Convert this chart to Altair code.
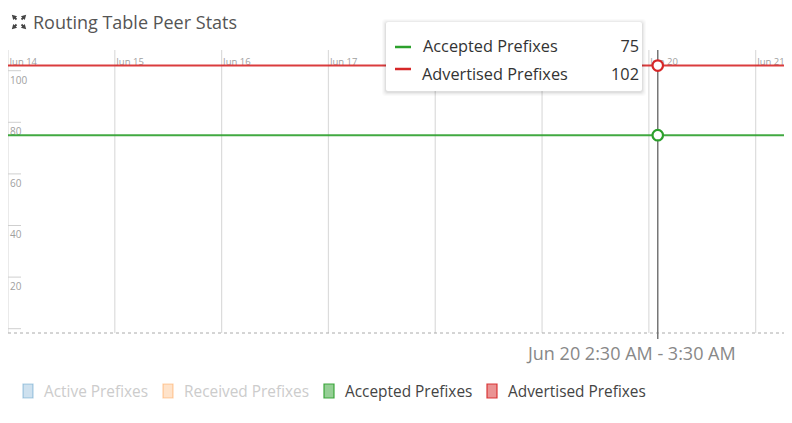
import altair as alt
import pandas as pd

# ---------------- data ----------------
day_dates = [
    "2024-06-14T00:00:00", "2024-06-15T00:00:00", "2024-06-16T00:00:00",
    "2024-06-17T00:00:00", "2024-06-18T00:00:00", "2024-06-19T00:00:00",
    "2024-06-20T00:00:00", "2024-06-21T00:00:00",
]
# day labels hidden under the tooltip box in the reference
covered_dates = ["2024-06-18T00:00:00", "2024-06-19T00:00:00"]
line_dates = day_dates + ["2024-06-22T00:00:00"]
accepted_values = [75, 75, 75, 75, 75, 75, 75, 75, 75]
advertised_values = [102, 102, 102, 102, 102, 102, 102, 102, 102]

series_names = ["Active Prefixes", "Received Prefixes", "Accepted Prefixes", "Advertised Prefixes"]
series_colors = ["#1f77b4", "#ff7f0e", "#2ca02c", "#d62728"]
series_enabled = [False, False, True, True]

y_tick_values = [0, 20, 40, 60, 80, 100]

hover_time = "2024-06-20T02:00:00"
hover_series = ["Accepted Prefixes", "Advertised Prefixes"]
hover_values = [75, 102]
hover_label = "Jun 20 2:30 AM - 3:30 AM"
title_text = "Routing Table Peer Stats"

FONT = "Open Sans"
W, H = 776, 407

# ---------------- tables ----------------
lines_df = pd.DataFrame({
    "date": line_dates * 2,
    "value": accepted_values + advertised_values,
    "series": ["Accepted Prefixes"] * len(line_dates) + ["Advertised Prefixes"] * len(line_dates),
})
days_df = pd.DataFrame({"date": day_dates})
day_labels_df = pd.DataFrame({"date": [d for d in day_dates if d not in covered_dates]})
yticks_df = pd.DataFrame({"value": y_tick_values})
ylabels_df = pd.DataFrame({"value": [v for v in y_tick_values if v > 0]})
hover_df = pd.DataFrame({"date": [hover_time] * len(hover_series),
                         "value": hover_values, "series": hover_series})
one = pd.DataFrame({"k": [0]})

x_scale = alt.Scale(domain=[alt.DateTime(year=2024, month=6, date=14, hours=0),
                            alt.DateTime(year=2024, month=6, date=21, hours=6, minutes=22)])
y_scale = alt.Scale(domain=[-33.45, 124.3], nice=False, zero=False)
color_scale = alt.Scale(domain=series_names, range=series_colors)

X = alt.X("date:T", scale=x_scale, axis=None)
Y = alt.Y("value:Q", scale=y_scale, axis=None)

layers = []

# vertical gridlines
layers.append(alt.Chart(days_df).mark_rule(color="#dcdcdc", strokeWidth=1.2).encode(
    x=X, y=alt.value(42), y2=alt.value(325)))

# x labels (top)
layers.append(alt.Chart(day_labels_df).mark_text(
    font=FONT, fontSize=9.5, color="#a0a0a0", align="left", baseline="alphabetic", dx=1.5
).encode(x=X, y=alt.value(57), text=alt.Text("date:T", format="%b %d")))

# y ticks and labels
layers.append(alt.Chart(yticks_df).mark_rule(color="#cfcfcf", strokeWidth=1).encode(
    y=Y, x=alt.value(0), x2=alt.value(13)))
layers.append(alt.Chart(ylabels_df).mark_text(
    font=FONT, fontSize=10, color="#a0a0a0", align="left", baseline="top", dy=5
).encode(y=Y, x=alt.value(2), text=alt.Text("value:Q")))

# dashed baseline
layers.append(alt.Chart(one).mark_rule(color="#aaaaaa", strokeDash=[3, 3], strokeWidth=1).encode(
    y=alt.value(325), x=alt.value(0), x2=alt.value(W)))

# data lines
layers.append(alt.Chart(lines_df).mark_line(strokeWidth=2, clip=True, opacity=0.9).encode(
    x=X, y=Y, color=alt.Color("series:N", scale=color_scale, legend=None)))

# hover rule and circles
layers.append(alt.Chart(hover_df.iloc[:1]).mark_rule(color="#777777", strokeWidth=1.5).encode(
    x=X, y=alt.value(42), y2=alt.value(331)))
layers.append(alt.Chart(hover_df).mark_circle(size=110, fill="white", opacity=1, strokeWidth=2.2).encode(
    x=X, y=Y, stroke=alt.Stroke("series:N", scale=color_scale, legend=None)))

# tooltip box with soft shadow
bx0, by0, bx1, by1 = 378, 14, 634, 83
for grow, op in [(4, 0.018), (3, 0.025), (2, 0.035), (1, 0.05)]:
    layers.append(alt.Chart(one).mark_rect(color="black", opacity=op, cornerRadius=3).encode(
        x=alt.value(bx0 - grow), x2=alt.value(bx1 + grow),
        y=alt.value(by0 - grow + 1), y2=alt.value(by1 + grow + 1)))
layers.append(alt.Chart(one).mark_rect(color="white", cornerRadius=2).encode(
    x=alt.value(bx0), x2=alt.value(bx1), y=alt.value(by0), y2=alt.value(by1)))

tip_rows = [(39, 39), (61, 67)]  # (dash y, text y)
for i, (name, val) in enumerate(zip(hover_series, hover_values)):
    dy_dash, dy_text = tip_rows[i]
    col = series_colors[series_names.index(name)]
    layers.append(alt.Chart(one).mark_rule(color=col, strokeWidth=2.5).encode(
        x=alt.value(387), x2=alt.value(403), y=alt.value(dy_dash)))
    layers.append(alt.Chart(one).mark_text(
        font=FONT, fontSize=16.3, color="#333333", align="left", baseline="middle"
    ).encode(x=alt.value(415 - i), y=alt.value(dy_text), text=alt.value(name)))
    layers.append(alt.Chart(one).mark_text(
        font=FONT, fontSize=16.3, color="#333333", align="right", baseline="middle"
    ).encode(x=alt.value(631), y=alt.value(dy_text), text=alt.value(str(val))))

# title + expand icon (four corner arrows)
layers.append(alt.Chart(one).mark_text(
    font=FONT, fontSize=18, color="#555555", align="left", baseline="alphabetic"
).encode(x=alt.value(25), y=alt.value(21), text=alt.value(title_text)))
icx, icy = 11, 14
for sx, sy, ang in [(1, -1, 45), (-1, -1, 315), (1, 1, 135), (-1, 1, 225)]:
    layers.append(alt.Chart(one).mark_rule(color="#444444", strokeWidth=1.8).encode(
        x=alt.value(icx + sx * 2.5), x2=alt.value(icx + sx * 5.5),
        y=alt.value(icy + sy * 2.5), y2=alt.value(icy + sy * 5.5)))
    layers.append(alt.Chart(one).mark_point(
        shape="triangle-up", filled=True, color="#444444", size=30, angle=ang, opacity=1
    ).encode(x=alt.value(icx + sx * 5.5), y=alt.value(icy + sy * 5.5)))

# hover time label
layers.append(alt.Chart(one).mark_text(
    font=FONT, fontSize=18, color="#888888", align="left", baseline="alphabetic"
).encode(x=alt.value(520), y=alt.value(352), text=alt.value(hover_label)))

# legend
legend_sq_x = [15, 155, 316, 479]
for name, col, on, lx in zip(series_names, series_colors, series_enabled, legend_sq_x):
    layers.append(alt.Chart(one).mark_rect(
        fill=col, fillOpacity=0.5 if on else 0.22,
        stroke=col, strokeOpacity=0.9 if on else 0.35, strokeWidth=1.2
    ).encode(x=alt.value(lx), x2=alt.value(lx + 10), y=alt.value(376), y2=alt.value(390)))
    layers.append(alt.Chart(one).mark_text(
        font=FONT, fontSize=15.4, color="#444444" if on else "#cccccc",
        align="left", baseline="middle"
    ).encode(x=alt.value(lx + 21), y=alt.value(384), text=alt.value(name)))

chart = alt.layer(*layers).properties(
    width=W, height=H,
    autosize=alt.AutoSizeParams(type="none"),
    padding=0,
).configure_view(strokeWidth=0)

chart.save("out.html", embed_options={"renderer": "svg", "actions": False})
